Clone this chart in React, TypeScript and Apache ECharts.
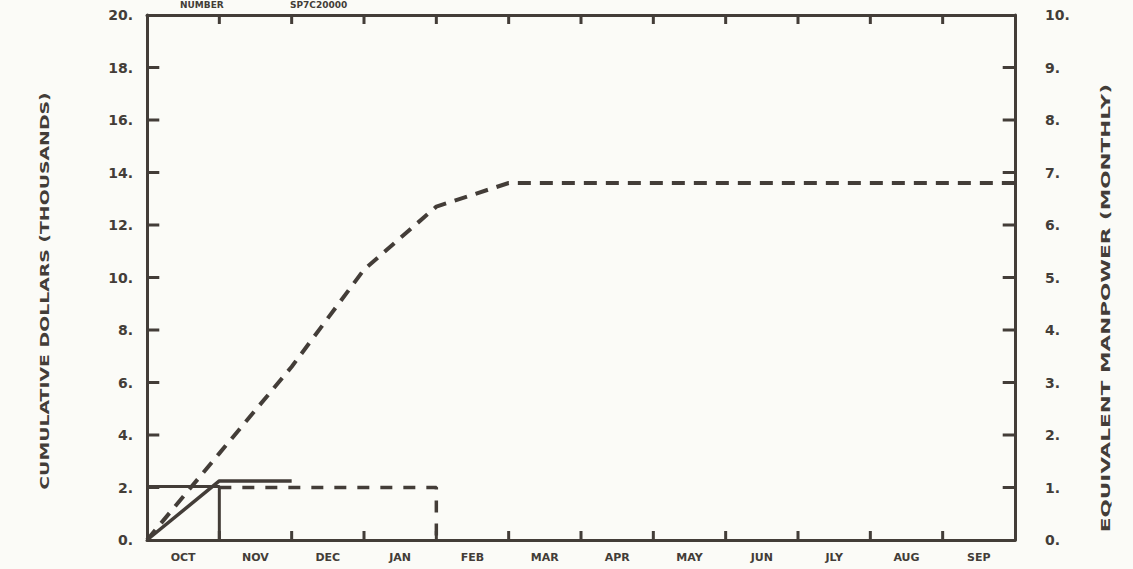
import React, { useEffect, useRef } from "react";
import * as echarts from "echarts";

const months = ["OCT", "NOV", "DEC", "JAN", "FEB", "MAR", "APR", "MAY", "JUN", "JLY", "AUG", "SEP"];
// cumulative dollars (thousands) at month boundaries 0..12
const plannedCumulative = [0, 3.3, 6.6, 10.3, 12.7, 13.6, 13.6, 13.6, 13.6, 13.6, 13.6, 13.6, 13.6];
const actualCumulative = [0, 2.25, 2.25];
// equivalent manpower per month (null = none)
const actualManpower = [1.02];
const plannedManpower = [null, 1.0, 1.0, 1.0];
const leftTicks = { min: 0, max: 20, interval: 2 };
const rightTicks = { min: 0, max: 10, interval: 1 };
const monthTickValues = [1, 2, 3, 4, 5, 6, 7, 8, 9, 10, 11];
const leftTickValues = [2, 4, 6, 8, 10, 12, 14, 16, 18];
const rightTickValues = [1, 2, 3, 4, 5, 6, 7, 8, 9];

const INK = "#433d38";
const BG = "#fbfbf7";
const FONT = "DejaVu Sans";
// tick mark lengths expressed in axis units (about 9 px vertical, 12 px horizontal)
const TICK_V = 0.34;
const TICK_H = 0.17;

function stepPoints(values: (number | null)[]) {
  const pts: number[][] = [];
  let last = -1;
  values.forEach((v, i) => {
    if (v == null) return;
    pts.push([i, v]);
    pts.push([i + 1, v]);
    last = i;
  });
  if (last >= 0) pts.push([last + 1, 0]);
  return pts;
}

function segments(pairs: number[][][]) {
  const out: any[] = [];
  pairs.forEach(([a, b]) => {
    out.push(a, b, "-");
  });
  return out;
}

const line = () => ({ show: true, onZero: false, lineStyle: { color: INK, width: 3 } });
const tickSeries = (name: string, yAxisIndex: number, data: any[]) => ({
  type: "line", name, xAxisIndex: 0, yAxisIndex, symbol: "none", silent: true,
  connectNulls: false, clip: false, data,
  lineStyle: { color: INK, width: 3 },
});

export default function App() {
  const ref = useRef<HTMLDivElement>(null);
  useEffect(() => {
    document.body.style.margin = "0";
    const chart = echarts.init(ref.current!, null, { renderer: "svg" });
    chart.setOption({
      animation: false,
      backgroundColor: BG,
      grid: { left: 147, right: 118, top: 15, bottom: 29 },
      xAxis: [
        {
          type: "value", position: "bottom", min: 0, max: 12, interval: 1,
          axisLine: line(), axisTick: { show: false },
          axisLabel: { show: false }, splitLine: { show: false },
        },
        {
          type: "value", position: "top", min: 0, max: 12, interval: 1,
          axisLine: line(), axisTick: { show: false },
          axisLabel: { show: false }, splitLine: { show: false },
        },
        {
          type: "category", position: "bottom", data: months, boundaryGap: true,
          axisLine: { show: false, onZero: false }, axisTick: { show: false }, splitLine: { show: false },
          axisLabel: { color: INK, fontFamily: FONT, fontWeight: "bold", fontSize: 11, margin: 12 },
        },
      ],
      yAxis: [
        {
          type: "value", position: "left", ...leftTicks,
          axisLine: line(), axisTick: { show: false }, splitLine: { show: false },
          axisLabel: { formatter: (v: number) => `${v}.`, color: INK, fontFamily: FONT, fontWeight: "bold", fontSize: 14, margin: 14 },
        },
        {
          type: "value", position: "right", ...rightTicks,
          axisLine: line(), axisTick: { show: false }, splitLine: { show: false },
          axisLabel: { formatter: (v: number) => `${v}.`, color: INK, fontFamily: FONT, fontWeight: "bold", fontSize: 14, margin: 30 },
        },
      ],
      graphic: [
        {
          type: "text", x: 45, y: 291, rotation: Math.PI / 2, scaleX: 1.45,
          style: { text: "CUMULATIVE DOLLARS (THOUSANDS)", fill: INK, font: `bold 13px "${FONT}"`, align: "center", verticalAlign: "middle" },
        },
        {
          type: "text", x: 1105, y: 308, rotation: Math.PI / 2, scaleX: 1.66,
          style: { text: "EQUIVALENT MANPOWER (MONTHLY)", fill: INK, font: `bold 13px "${FONT}"`, align: "center", verticalAlign: "middle" },
        },
        {
          type: "text", x: 180, y: 0,
          style: { text: "NUMBER", fill: INK, font: `bold 9px "${FONT}"`, align: "left", verticalAlign: "top" },
        },
        {
          type: "text", x: 290, y: 0,
          style: { text: "SP7C20000", fill: INK, font: `bold 9px "${FONT}"`, align: "left", verticalAlign: "top" },
        },
      ],
      series: [
        tickSeries("bottom ticks", 0, segments(monthTickValues.map((v) => [[v, leftTicks.min], [v, leftTicks.min + TICK_V]]))),
        tickSeries("top ticks", 0, segments(monthTickValues.map((v) => [[v, leftTicks.max], [v, leftTicks.max - TICK_V]]))),
        tickSeries("left ticks", 0, segments(leftTickValues.map((v) => [[0, v], [TICK_H, v]]))),
        tickSeries("right ticks", 1, segments(rightTickValues.map((v) => [[12, v], [12 - TICK_H, v]]))),
        {
          type: "line", name: "planned cumulative", xAxisIndex: 0, yAxisIndex: 0, symbol: "none",
          data: plannedCumulative.map((v, i) => [i, v]),
          lineStyle: { color: INK, width: 4, type: [13, 9] },
        },
        {
          type: "line", name: "actual cumulative", xAxisIndex: 0, yAxisIndex: 0, symbol: "none",
          data: actualCumulative.map((v, i) => [i, v]),
          lineStyle: { color: INK, width: 3.5 },
        },
        {
          type: "line", name: "actual manpower", xAxisIndex: 0, yAxisIndex: 1, symbol: "none",
          data: stepPoints(actualManpower),
          lineStyle: { color: INK, width: 3 },
        },
        {
          type: "line", name: "planned manpower", xAxisIndex: 0, yAxisIndex: 1, symbol: "none",
          data: stepPoints(plannedManpower),
          lineStyle: { color: INK, width: 3.5, type: [12, 11] },
        },
      ],
    });
    return () => chart.dispose();
  }, []);
  return <div ref={ref} style={{ position: "absolute", left: 0, top: 0, width: 1133, height: 569 }} />;
}
